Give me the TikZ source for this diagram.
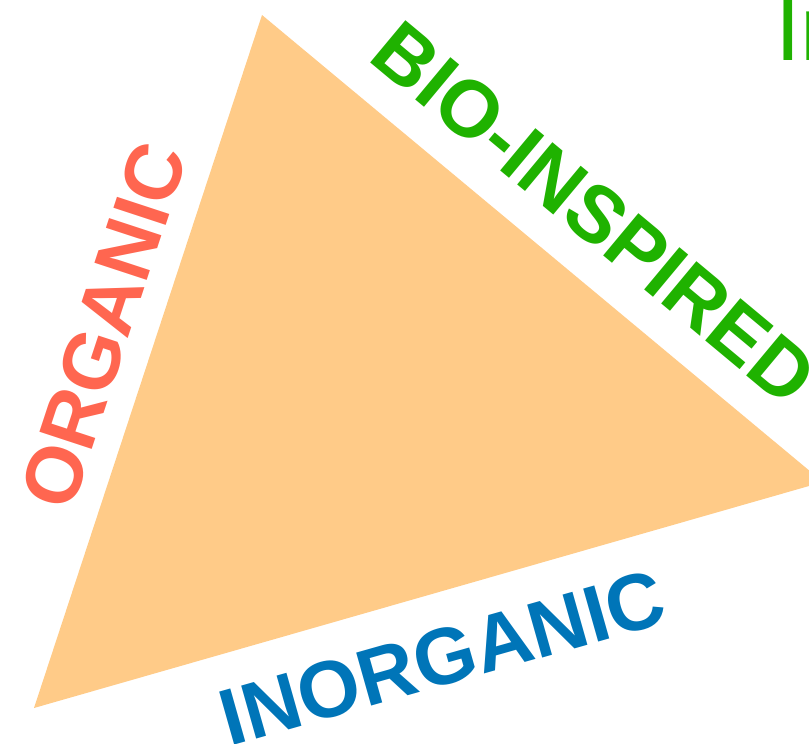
\documentclass[tikz,border=0pt]{standalone}
\usepackage{fontspec}
\setmainfont{Liberation Sans}
\definecolor{trifill}{RGB}{255,203,136}
\definecolor{orgred}{RGB}{255,102,80}
\definecolor{biogreen}{RGB}{31,178,0}
\definecolor{inorgblue}{RGB}{0,117,184}
\begin{document}
\begin{tikzpicture}[x=1pt,y=-1pt,
    sidelabel/.style={font=\fontsize{80}{80}\selectfont\bfseries, inner sep=0pt, anchor=base}]
    % page of 809 x 744, y runs downwards
    \useasboundingbox (0,0) rectangle (809,744);
    \clip (0,0) rectangle (809,744);

    % Triangle (right corner lies just off the page)
    \fill[trifill] (262,15) -- (823,482) -- (34,708) -- cycle;

    % Side labels, parallel to the edges
    \node[sidelabel, text=orgred, rotate=71.8] (organic) at (130,334) {ORGANIC};
    \node[sidelabel, text=biogreen, rotate=-39.8] (bioinspired) at (577,234) {BIO-INSPIRED};
    \node[sidelabel, text=inorgblue, rotate=15.8] (inorganic) at (450,684) {INORGANIC};

    % Word cut off at the top right corner
    \node[font=\fontsize{92}{92}\selectfont, text=biogreen, inner sep=0pt, anchor=base west] (cutword) at (775,60) {In};
\end{tikzpicture}
\end{document}
